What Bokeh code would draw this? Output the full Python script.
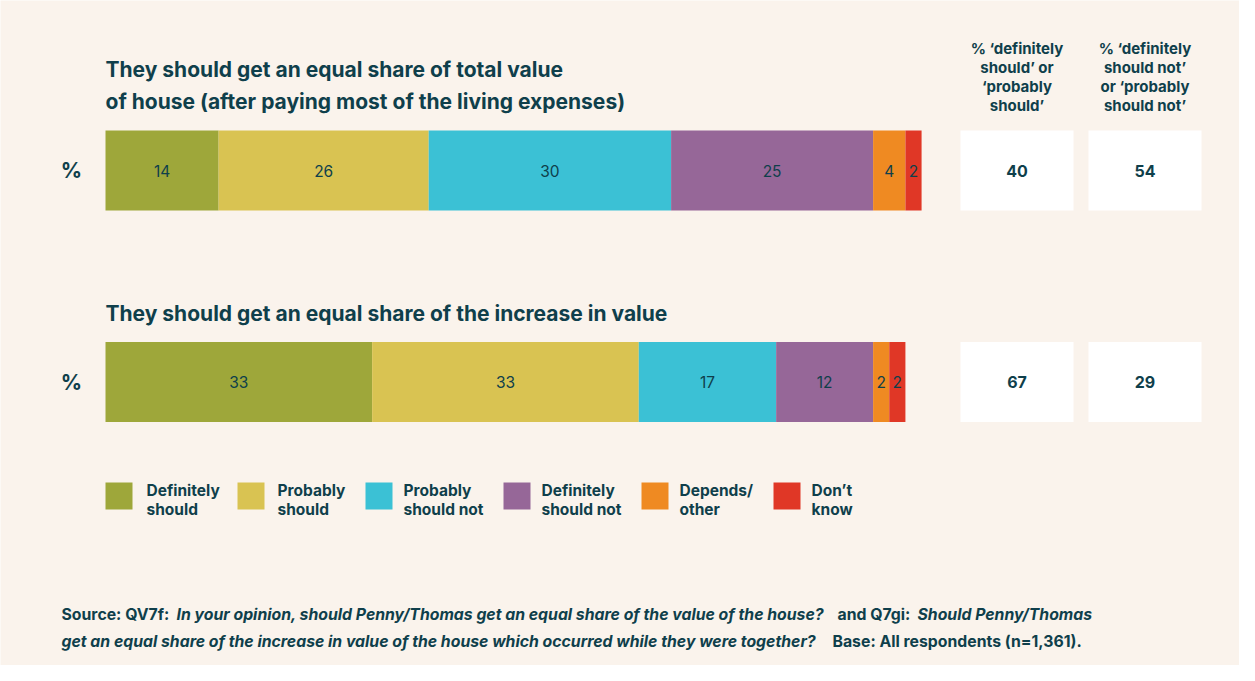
from bokeh.plotting import figure
from bokeh.models import Range1d
from bokeh.core.properties import value
from bokeh.embed import file_html
from bokeh.resources import INLINE

# ---------------- data ----------------
categories = ["Definitely should", "Probably should", "Probably should not",
              "Definitely should not", "Depends/ other", "Don\u2019t know"]
legend_lines = [["Definitely", "should"], ["Probably", "should"], ["Probably", "should not"],
                ["Definitely", "should not"], ["Depends/", "other"], ["Don\u2019t", "know"]]
colors = ["#9ea73a", "#d9c352", "#3bc1d5", "#966798", "#ef8a22", "#e03726"]
row_titles = [["They should get an equal share of total value",
               "of house (after paying most of the living expenses)"],
              ["They should get an equal share of the increase in value"]]
total_value = [14, 26, 30, 25, 4, 2]
increase_value = [33, 33, 17, 12, 2, 2]
should_pct = [40, 67]
should_not_pct = [54, 29]
col_headers = [["% \u2018definitely", "should\u2019 or", "\u2018probably", "should\u2019"],
               ["% \u2018definitely", "should not\u2019", "or \u2018probably", "should not\u2019"]]

# ---------------- layout ----------------
W, H = 1239, 665
OFF = 8
X0 = 113          # reference px where 0% starts
PXU = 8.08        # px per percentage point
BG = "#faf3ec"
INK = "#0f3f4b"
FONT = "Inter"

def X(px):
    return (px - OFF - (X0 - OFF)) / PXU

def Y(px):
    return px - OFF

p = figure(width=W, height=H, output_backend="svg", toolbar_location=None,
           x_range=Range1d(X(OFF), X(OFF + W)), y_range=Range1d(H, 0),
           min_border=0, background_fill_color=BG, border_fill_color=BG)
p.axis.visible = False
p.grid.visible = False
p.outline_line_color = None

rows = [total_value, increase_value]
bar_centers = [Y(178), Y(389.5)]
bar_h = 80
title_ys = [[Y(77), Y(109)], [Y(321)]]

for r, vals in enumerate(rows):
    lefts, rights = [], []
    acc = 0
    for v in vals:
        lefts.append(acc)
        acc += v
        rights.append(acc)
    yc = bar_centers[r]
    p.hbar(y=[yc] * len(vals), left=lefts, right=rights, height=bar_h,
           fill_color=colors, line_color=None)
    p.text(x=[(a + b) / 2 for a, b in zip(lefts, rights)], y=[yc] * len(vals),
           text=[str(v) for v in vals], text_align="center", text_baseline="middle",
           text_font=value(FONT), text_font_size="15.5px", text_color=INK)
    # row label
    p.text(x=[X(79)], y=[yc], text=["%"], text_align="center", text_baseline="middle",
           text_font=value(FONT), text_font_size="21px", text_font_style="bold",
           text_color=INK)
    # titles
    p.text(x=[X(113)] * len(row_titles[r]), y=title_ys[r], text=row_titles[r],
           text_align="left", text_baseline="middle", text_font=value(FONT),
           text_font_size="21px", text_font_style="bold", text_color=INK)

# summary boxes
box_cols = [(968, 1081), (1096, 1209)]
summaries = [should_pct, should_not_pct]
for c, (l, rgt) in enumerate(box_cols):
    p.quad(left=[X(l)] * 2, right=[X(rgt)] * 2,
           top=[bc - bar_h / 2 for bc in bar_centers],
           bottom=[bc + bar_h / 2 for bc in bar_centers],
           fill_color="white", line_color=None)
    p.text(x=[X((l + rgt) / 2)] * 2, y=bar_centers, text=[str(v) for v in summaries[c]],
           text_align="center", text_baseline="middle", text_font=value(FONT),
           text_font_size="16px", text_font_style="bold", text_color=INK)
    p.text(x=[X((l + rgt) / 2)] * 4, y=[Y(56), Y(75), Y(94), Y(113)], text=col_headers[c],
           text_align="center", text_baseline="middle", text_font=value(FONT),
           text_font_size="15px", text_font_style="bold", text_color=INK)

# legend
leg_sq_x = [113, 245, 373, 511, 649, 781]
leg_tx_x = [154, 285, 411, 549, 687, 819]
p.rect(x=[X(v + 13.5) for v in leg_sq_x], y=[Y(503.5)] * 6, width=27, height=27,
       width_units="screen", height_units="screen", fill_color=colors, line_color=None)
for i, lines in enumerate(legend_lines):
    p.text(x=[X(leg_tx_x[i])] * 2, y=[Y(498), Y(517)], text=lines, text_align="left",
           text_baseline="middle", text_font=value(FONT), text_font_size="15.5px",
           text_font_style="bold", text_color=INK)

# source note
src = [
    (69, 622, "Source: QV7f:", "bold"),
    (184, 622, "In your opinion, should Penny/Thomas get an equal share of the value of the house?", "bold italic"),
    (845, 622, "and Q7gi:", "bold"),
    (925, 622, "Should Penny/Thomas", "bold italic"),
    (69, 649, "get an equal share of the increase in value of the house which occurred while they were together?", "bold italic"),
    (840, 649, "Base: All respondents (n=1,361).", "bold"),
]
for sx, sy, st, sty in src:
    p.text(x=[X(sx)], y=[Y(sy)], text=[st], text_align="left", text_baseline="middle",
           text_font=value(FONT), text_font_size="15.8px", text_font_style=sty,
           text_color=INK)

open("out.html", "w").write(file_html(p, INLINE))
